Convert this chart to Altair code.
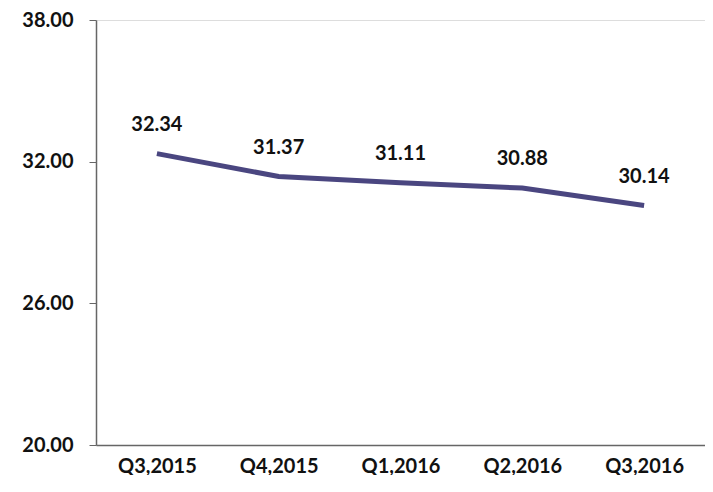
import altair as alt
import pandas as pd

quarters = ["Q3,2015", "Q4,2015", "Q1,2016", "Q2,2016", "Q3,2016"]
values = [32.34, 31.37, 31.11, 30.88, 30.14]
y_ticks = [20, 26, 32, 38]

df = pd.DataFrame({"quarter": quarters, "value": values})
FONT = "Lato"
FS = 20

x = alt.X("quarter:N", sort=quarters, title=None,
          scale=alt.Scale(paddingInner=0, paddingOuter=0),
          axis=alt.Axis(labelAngle=0, ticks=False, labelPadding=11,
                        labelFont=FONT, labelFontSize=FS, labelFontWeight="bold",
                        labelColor="#111", domainColor="#666", domainWidth=1.5))
y = alt.Y("value:Q", title=None,
          scale=alt.Scale(domain=[20, 38], nice=False, zero=False),
          axis=alt.Axis(values=y_ticks, format=".2f", grid=False, tickSize=7,
                        tickColor="#666", domainColor="#666", domainWidth=1.5,
                        labelPadding=16, labelFont=FONT, labelFontSize=FS,
                        labelFontWeight="bold", labelColor="#111"))

line = alt.Chart(df).mark_line(color="#4a4680", strokeWidth=5, strokeCap="butt").encode(x=x, y=y)
text = alt.Chart(df).mark_text(dy=-19, baseline="bottom", font=FONT, fontSize=FS,
                               fontWeight="bold", color="#111").encode(
    x=alt.X("quarter:N", sort=quarters), y="value:Q", text=alt.Text("value:Q", format=".2f"))

chart = (line + text).properties(
    width=609, height=425,
    autosize=alt.AutoSizeParams(type="none"),
    padding={"left": 88, "top": 12, "right": 0, "bottom": 30},
).configure_view(stroke=None).configure(background="white")

chart.save("out.html", embed_options={"renderer": "svg", "actions": False})
